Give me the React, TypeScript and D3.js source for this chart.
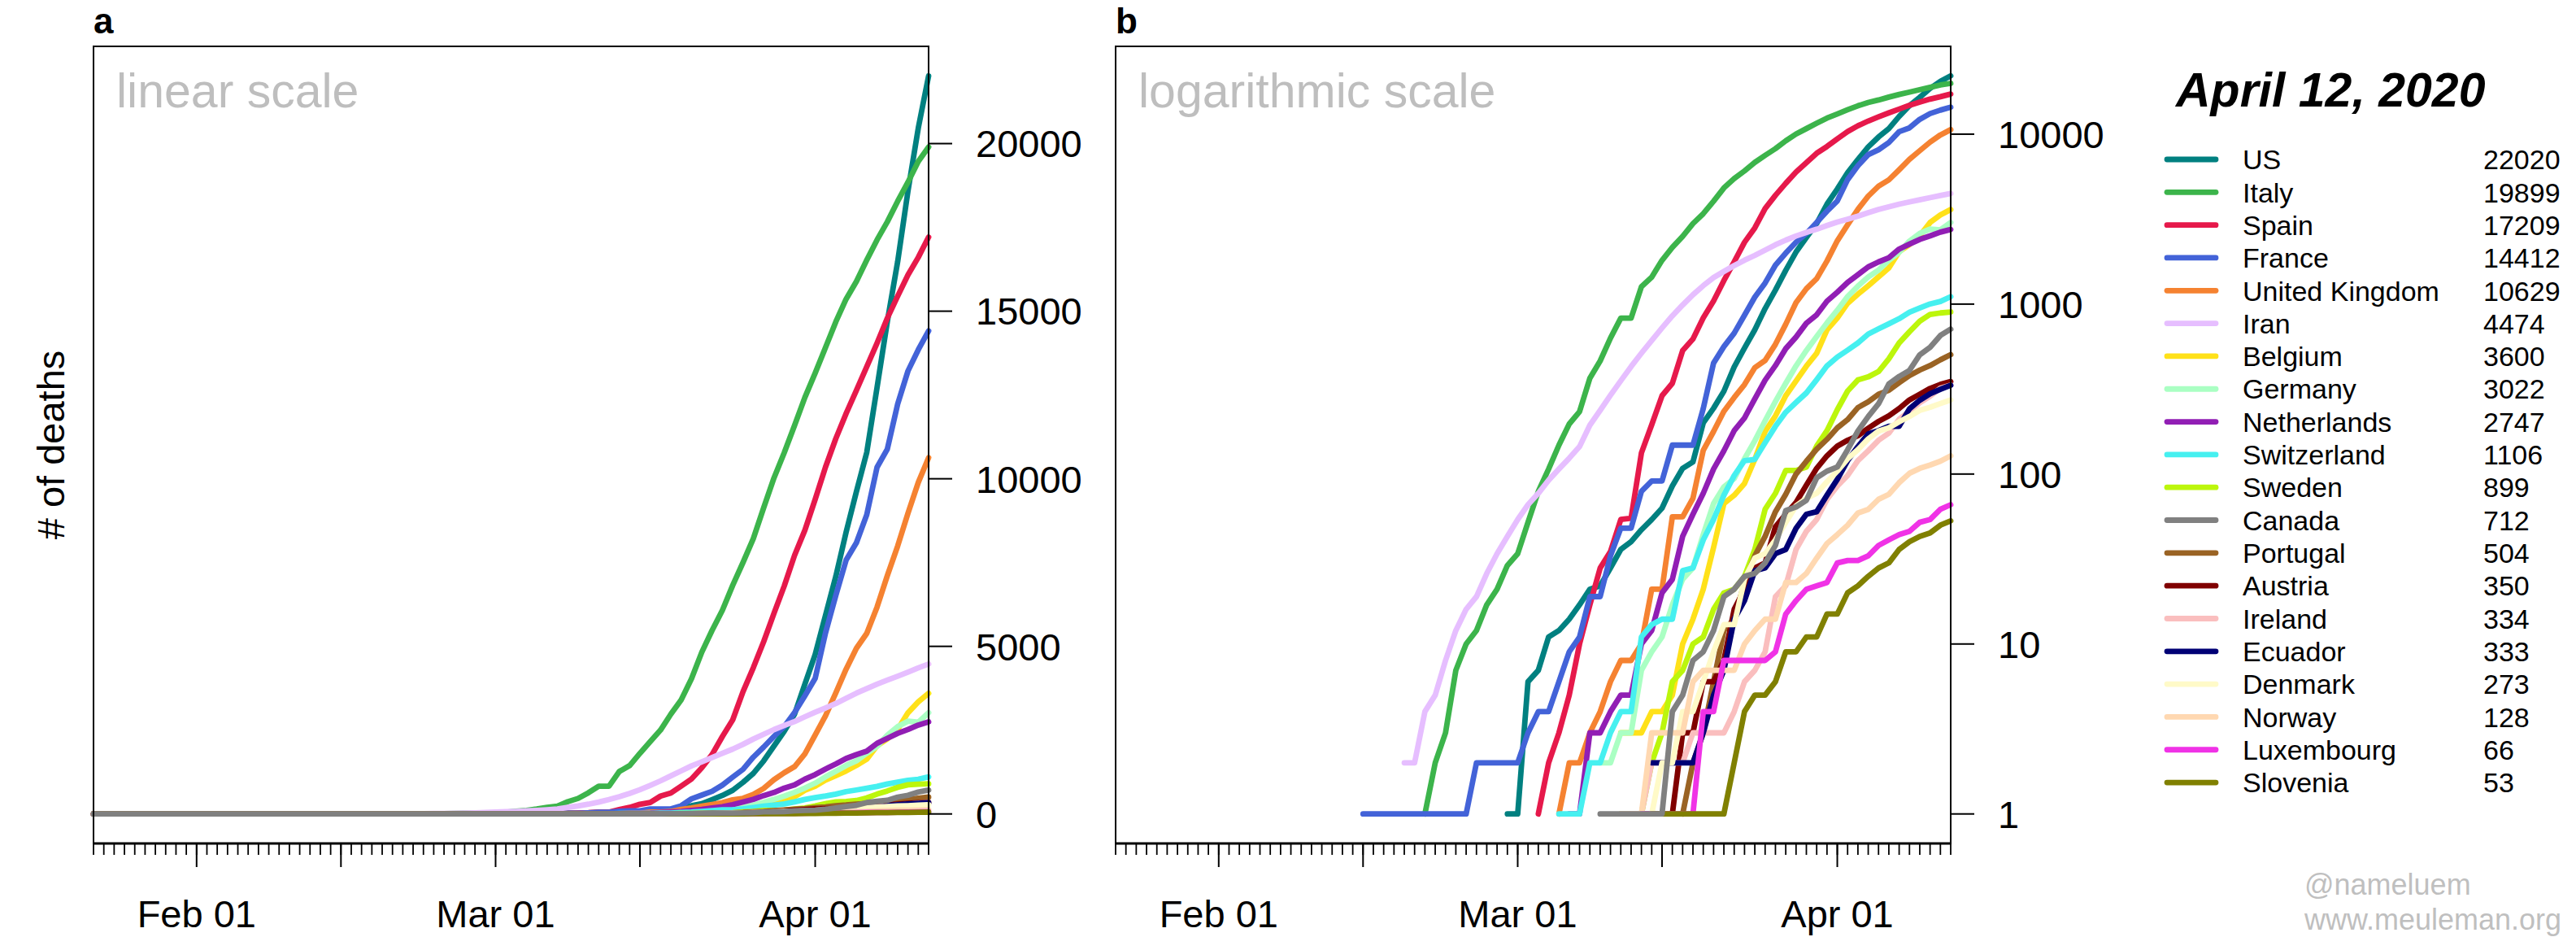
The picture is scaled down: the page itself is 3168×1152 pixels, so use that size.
import * as React from 'react';
import * as d3 from 'd3';

// daily cumulative deaths, Jan 22 .. Apr 12 2020 (82 days)
const startDate = new Date(Date.UTC(2020, 0, 22));
const endDate = new Date(Date.UTC(2020, 3, 12));
const dates = d3.utcDay.range(startDate, d3.utcDay.offset(endDate, 1));

const countries = [
  'US', 'Italy', 'Spain', 'France', 'United Kingdom', 'Iran', 'Belgium', 'Germany', 'Netherlands', 'Switzerland',
  'Sweden', 'Canada', 'Portugal', 'Austria', 'Ireland', 'Ecuador', 'Denmark', 'Norway', 'Luxembourg', 'Slovenia',
];

const colors = [
  '#008080', '#3cb44b', '#e6194b', '#4363d8', '#f58231', '#e6beff', '#ffe119', '#aaffc3', '#911eb4', '#46f0f0',
  '#bcf60c', '#808080', '#9a6324', '#800000', '#fabebe', '#000075', '#fffac8', '#ffd8b1', '#f032e6', '#808000',
];

// rows: Jan 22-31 | Feb 1-29 | Mar 1-31 | Apr 1-12
const deathsUS = [
  0, 0, 0, 0, 0, 0, 0, 0, 0, 0,
  0, 0, 0, 0, 0, 0, 0, 0, 0, 0, 0, 0, 0, 0, 0, 0, 0, 0, 0, 0, 0, 0, 0, 0, 0, 0, 0, 0, 1,
  1, 6, 7, 11, 12, 14, 17, 21, 22, 28, 36, 40, 47, 54, 63, 85, 108, 118, 200, 244, 307, 427, 552, 706, 942, 1209, 1581, 2026, 2467, 2978, 3873,
  4757, 5926, 7087, 8407, 9619, 10783, 12722, 14695, 16478, 18586, 20463, 22020,
];
const deathsItaly = [
  0, 0, 0, 0, 0, 0, 0, 0, 0, 0,
  0, 0, 0, 0, 0, 0, 0, 0, 0, 0, 0, 0, 0, 0, 0, 0, 0, 0, 0, 0, 1, 2, 3, 7, 10, 12, 17, 21, 29,
  34, 52, 79, 107, 148, 197, 233, 366, 463, 631, 827, 827, 1266, 1441, 1809, 2158, 2503, 2978, 3405, 4032, 4825, 5476, 6077, 6820, 7503, 8215, 9134, 10023, 10779, 11591, 12428,
  13155, 13915, 14681, 15362, 15887, 16523, 17127, 17669, 18279, 18849, 19468, 19899,
];
const deathsSpain = [
  0, 0, 0, 0, 0, 0, 0, 0, 0, 0,
  0, 0, 0, 0, 0, 0, 0, 0, 0, 0, 0, 0, 0, 0, 0, 0, 0, 0, 0, 0, 0, 0, 0, 0, 0, 0, 0, 0, 0,
  0, 0, 1, 2, 3, 5, 10, 17, 28, 35, 54, 55, 133, 195, 289, 342, 533, 623, 830, 1043, 1375, 1772, 2311, 2808, 3647, 4365, 5138, 5982, 6803, 7716, 8464,
  9387, 10348, 11198, 11947, 12641, 13341, 14045, 14792, 15447, 16081, 16606, 17209,
];
const deathsFrance = [
  0, 0, 0, 0, 0, 0, 0, 0, 0, 0,
  0, 0, 0, 0, 0, 0, 0, 0, 0, 0, 0, 0, 0, 0, 1, 1, 1, 1, 1, 1, 1, 1, 1, 1, 1, 2, 2, 2, 2,
  2, 3, 4, 4, 6, 9, 11, 19, 19, 33, 48, 48, 79, 91, 91, 148, 148, 148, 243, 450, 562, 674, 860, 1100, 1331, 1696, 1995, 2314, 2606, 3024, 3523,
  4043, 5398, 6520, 7574, 8093, 8926, 10343, 10887, 12228, 13215, 13851, 14412,
];
const deathsUK = [
  0, 0, 0, 0, 0, 0, 0, 0, 0, 0,
  0, 0, 0, 0, 0, 0, 0, 0, 0, 0, 0, 0, 0, 0, 0, 0, 0, 0, 0, 0, 0, 0, 0, 0, 0, 0, 0, 0, 0,
  0, 0, 0, 0, 1, 2, 2, 3, 4, 6, 8, 8, 10, 21, 21, 56, 56, 72, 138, 178, 234, 282, 336, 423, 466, 580, 761, 1021, 1231, 1411, 1793,
  2357, 2926, 3611, 4320, 4943, 5385, 6171, 7111, 7993, 8974, 9892, 10629,
];
const deathsIran = [
  0, 0, 0, 0, 0, 0, 0, 0, 0, 0,
  0, 0, 0, 0, 0, 0, 0, 0, 0, 0, 0, 0, 0, 0, 0, 0, 0, 0, 2, 2, 4, 5, 8, 12, 16, 19, 26, 34, 43,
  54, 66, 77, 92, 107, 124, 145, 194, 237, 291, 354, 429, 514, 611, 724, 853, 988, 1135, 1284, 1433, 1556, 1685, 1812, 1934, 2077, 2234, 2378, 2517, 2640, 2757, 2898,
  3036, 3160, 3294, 3452, 3603, 3739, 3872, 3993, 4110, 4232, 4357, 4474,
];
const deathsBelgium = [
  0, 0, 0, 0, 0, 0, 0, 0, 0, 0,
  0, 0, 0, 0, 0, 0, 0, 0, 0, 0, 0, 0, 0, 0, 0, 0, 0, 0, 0, 0, 0, 0, 0, 0, 0, 0, 0, 0, 0,
  0, 0, 0, 0, 0, 0, 0, 0, 0, 0, 3, 3, 3, 4, 4, 5, 10, 14, 21, 37, 67, 75, 88, 122, 178, 220, 289, 353, 431, 513, 705,
  828, 1011, 1143, 1283, 1447, 1632, 2035, 2240, 2523, 3019, 3346, 3600,
];
const deathsGermany = [
  0, 0, 0, 0, 0, 0, 0, 0, 0, 0,
  0, 0, 0, 0, 0, 0, 0, 0, 0, 0, 0, 0, 0, 0, 0, 0, 0, 0, 0, 0, 0, 0, 0, 0, 0, 0, 0, 0, 0,
  0, 0, 0, 0, 0, 0, 0, 0, 2, 2, 3, 3, 7, 9, 11, 17, 24, 28, 44, 67, 84, 94, 123, 157, 206, 267, 342, 433, 533, 645, 775,
  920, 1107, 1275, 1444, 1584, 1810, 2016, 2349, 2607, 2767, 2736, 3022,
];
const deathsNetherlands = [
  0, 0, 0, 0, 0, 0, 0, 0, 0, 0,
  0, 0, 0, 0, 0, 0, 0, 0, 0, 0, 0, 0, 0, 0, 0, 0, 0, 0, 0, 0, 0, 0, 0, 0, 0, 0, 0, 0, 0,
  0, 0, 0, 0, 0, 1, 1, 3, 3, 4, 5, 5, 10, 12, 20, 24, 43, 58, 77, 107, 137, 180, 214, 277, 357, 435, 547, 640, 772, 865, 1040,
  1175, 1341, 1490, 1656, 1771, 1874, 2108, 2255, 2403, 2520, 2653, 2747,
];
const deathsSwitzerland = [
  0, 0, 0, 0, 0, 0, 0, 0, 0, 0,
  0, 0, 0, 0, 0, 0, 0, 0, 0, 0, 0, 0, 0, 0, 0, 0, 0, 0, 0, 0, 0, 0, 0, 0, 0, 0, 0, 0, 0,
  0, 0, 0, 0, 1, 1, 1, 2, 2, 3, 4, 4, 11, 13, 14, 14, 27, 28, 41, 54, 75, 98, 120, 122, 153, 191, 231, 264, 300, 359, 433,
  488, 536, 591, 666, 715, 765, 821, 895, 948, 1002, 1036, 1106,
];
const deathsSweden = [
  0, 0, 0, 0, 0, 0, 0, 0, 0, 0,
  0, 0, 0, 0, 0, 0, 0, 0, 0, 0, 0, 0, 0, 0, 0, 0, 0, 0, 0, 0, 0, 0, 0, 0, 0, 0, 0, 0, 0,
  0, 0, 0, 0, 0, 0, 0, 0, 0, 0, 1, 1, 1, 2, 3, 6, 7, 10, 11, 16, 20, 21, 25, 36, 62, 77, 105, 105, 110, 146, 180,
  239, 308, 358, 373, 401, 477, 591, 687, 793, 870, 887, 899,
];
const deathsCanada = [
  0, 0, 0, 0, 0, 0, 0, 0, 0, 0,
  0, 0, 0, 0, 0, 0, 0, 0, 0, 0, 0, 0, 0, 0, 0, 0, 0, 0, 0, 0, 0, 0, 0, 0, 0, 0, 0, 0, 0,
  0, 0, 0, 0, 0, 0, 0, 0, 1, 1, 1, 1, 1, 1, 1, 4, 5, 8, 9, 12, 19, 21, 25, 26, 30, 38, 61, 64, 70, 95, 104,
  110, 139, 179, 218, 259, 339, 375, 407, 503, 557, 654, 712,
];
const deathsPortugal = [
  0, 0, 0, 0, 0, 0, 0, 0, 0, 0,
  0, 0, 0, 0, 0, 0, 0, 0, 0, 0, 0, 0, 0, 0, 0, 0, 0, 0, 0, 0, 0, 0, 0, 0, 0, 0, 0, 0, 0,
  0, 0, 0, 0, 0, 0, 0, 0, 0, 0, 0, 0, 0, 0, 0, 0, 1, 2, 3, 6, 12, 14, 23, 33, 43, 60, 76, 100, 119, 140, 160,
  187, 209, 246, 266, 295, 311, 345, 380, 409, 435, 470, 504,
];
const deathsAustria = [
  0, 0, 0, 0, 0, 0, 0, 0, 0, 0,
  0, 0, 0, 0, 0, 0, 0, 0, 0, 0, 0, 0, 0, 0, 0, 0, 0, 0, 0, 0, 0, 0, 0, 0, 0, 0, 0, 0, 0,
  0, 0, 0, 0, 0, 0, 0, 0, 0, 0, 0, 1, 1, 1, 1, 1, 3, 3, 6, 6, 8, 16, 21, 28, 30, 49, 58, 68, 86, 108, 128,
  146, 158, 168, 186, 204, 220, 243, 273, 295, 319, 337, 350,
];
const deathsIreland = [
  0, 0, 0, 0, 0, 0, 0, 0, 0, 0,
  0, 0, 0, 0, 0, 0, 0, 0, 0, 0, 0, 0, 0, 0, 0, 0, 0, 0, 0, 0, 0, 0, 0, 0, 0, 0, 0, 0, 0,
  0, 0, 0, 0, 0, 0, 0, 0, 0, 0, 1, 1, 1, 2, 2, 2, 2, 3, 3, 3, 3, 4, 6, 7, 9, 19, 22, 36, 46, 54, 71,
  85, 98, 120, 137, 158, 174, 210, 235, 263, 287, 320, 334,
];
const deathsEcuador = [
  0, 0, 0, 0, 0, 0, 0, 0, 0, 0,
  0, 0, 0, 0, 0, 0, 0, 0, 0, 0, 0, 0, 0, 0, 0, 0, 0, 0, 0, 0, 0, 0, 0, 0, 0, 0, 0, 0, 0,
  0, 0, 0, 0, 0, 0, 0, 0, 0, 0, 0, 0, 0, 2, 2, 2, 2, 2, 3, 5, 7, 14, 18, 27, 28, 34, 36, 48, 58, 60, 75,
  93, 120, 145, 172, 180, 191, 191, 242, 272, 297, 315, 333,
];
const deathsDenmark = [
  0, 0, 0, 0, 0, 0, 0, 0, 0, 0,
  0, 0, 0, 0, 0, 0, 0, 0, 0, 0, 0, 0, 0, 0, 0, 0, 0, 0, 0, 0, 0, 0, 0, 0, 0, 0, 0, 0, 0,
  0, 0, 0, 0, 0, 0, 0, 0, 0, 0, 0, 0, 0, 1, 2, 2, 4, 4, 6, 9, 13, 13, 24, 32, 34, 41, 52, 65, 72, 77, 90,
  104, 123, 139, 161, 179, 187, 203, 218, 237, 247, 260, 273,
];
const deathsNorway = [
  0, 0, 0, 0, 0, 0, 0, 0, 0, 0,
  0, 0, 0, 0, 0, 0, 0, 0, 0, 0, 0, 0, 0, 0, 0, 0, 0, 0, 0, 0, 0, 0, 0, 0, 0, 0, 0, 0, 0,
  0, 0, 0, 0, 0, 0, 0, 0, 0, 0, 0, 1, 1, 3, 3, 3, 3, 6, 7, 7, 7, 7, 10, 12, 14, 14, 23, 23, 26, 32, 39,
  44, 50, 59, 62, 71, 76, 89, 101, 108, 113, 119, 128,
];
const deathsLuxembourg = [
  0, 0, 0, 0, 0, 0, 0, 0, 0, 0,
  0, 0, 0, 0, 0, 0, 0, 0, 0, 0, 0, 0, 0, 0, 0, 0, 0, 0, 0, 0, 0, 0, 0, 0, 0, 0, 0, 0, 0,
  0, 0, 0, 0, 0, 0, 0, 0, 0, 0, 0, 0, 1, 1, 1, 1, 1, 1, 4, 4, 8, 8, 8, 8, 8, 9, 15, 18, 21, 22, 23,
  30, 31, 31, 33, 38, 41, 44, 46, 52, 54, 62, 66,
];
const deathsSlovenia = [
  0, 0, 0, 0, 0, 0, 0, 0, 0, 0,
  0, 0, 0, 0, 0, 0, 0, 0, 0, 0, 0, 0, 0, 0, 0, 0, 0, 0, 0, 0, 0, 0, 0, 0, 0, 0, 0, 0, 0,
  0, 0, 0, 0, 0, 0, 0, 0, 0, 0, 0, 0, 0, 1, 1, 1, 1, 1, 1, 1, 1, 2, 4, 5, 5, 6, 9, 9, 11, 11, 15,
  15, 20, 22, 25, 28, 30, 36, 40, 43, 45, 50, 53,
];

const series = [
  deathsUS, deathsItaly, deathsSpain, deathsFrance, deathsUK, deathsIran, deathsBelgium, deathsGermany,
  deathsNetherlands, deathsSwitzerland, deathsSweden, deathsCanada, deathsPortugal, deathsAustria,
  deathsIreland, deathsEcuador, deathsDenmark, deathsNorway, deathsLuxembourg, deathsSlovenia,
];

// Canada ends up on top in the original
const drawOrder = [0, 1, 2, 3, 4, 5, 6, 7, 8, 9, 10, 12, 13, 14, 15, 16, 17, 18, 19, 11];

const linearTicks = [0, 5000, 10000, 15000, 20000];
const logTicks = [1, 10, 100, 1000, 10000];

const W = 3168;
const H = 1152;
const plotTop = 57;
const plotBottom = 1037;
const plotW = 1027;
const font = '"Liberation Sans", Arial, Helvetica, sans-serif';
const lineW = 6.8;

const fmtDate = d3.utcFormat('%b %d');
const majorDates = dates.filter((d) => d.getUTCDate() === 1 || d.getUTCDate() === 15);

function Panel(props: { left: number; log: boolean; tag: string; note: string }) {
  const { left, log, tag, note } = props;
  const right = left + plotW;
  const x = d3.scaleUtc().domain([startDate, endDate]).range([left, right]);
  const maxV = d3.max(series, (s) => d3.max(s)) as number;

  // R style 4% padding of the data range
  let y: any;
  if (log) {
    const hi = Math.log10(maxV);
    const pad = hi * 0.04;
    y = d3.scaleLog().domain([Math.pow(10, -pad), Math.pow(10, hi + pad)]).range([plotBottom, plotTop]);
  } else {
    const pad = maxV * 0.04;
    y = d3.scaleLinear().domain([-pad, maxV + pad]).range([plotBottom, plotTop]);
  }

  const line = d3.line<number>()
    .defined((v) => !log || v > 0)
    .x((_, i) => x(dates[i]))
    .y((v) => y(v));

  const ticks = log ? logTicks : linearTicks;

  return (
    <g>
      <text x={left} y={41} fontSize={44} fontWeight="bold" fontFamily={font}>{tag}</text>
      <text x={left + 28} y={132} fontSize={59} fill="#bebebe" fontFamily={font}>{note}</text>

      {drawOrder.map((k) => (
        <path key={k} d={line(series[k]) || ''} fill="none" stroke={colors[k]}
          strokeWidth={lineW} strokeLinejoin="round" strokeLinecap="round" />
      ))}

      <rect x={left} y={plotTop} width={plotW} height={plotBottom - plotTop}
        fill="none" stroke="#000" strokeWidth={2} />

      {/* x axis: one minor tick per day, long ticks on the 1st and 15th */}
      <line x1={left} x2={right} y1={plotBottom} y2={plotBottom} stroke="#000" strokeWidth={3} />
      {dates.map((d, i) => (
        <line key={i} x1={x(d)} x2={x(d)} y1={plotBottom} y2={plotBottom + 14} stroke="#000" strokeWidth={1.8} />
      ))}
      {majorDates.map((d, i) => (
        <line key={'M' + i} x1={x(d)} x2={x(d)} y1={plotBottom} y2={plotBottom + 29} stroke="#000" strokeWidth={2} />
      ))}
      {majorDates.filter((d) => d.getUTCDate() === 1).map((d, i) => (
        <text key={'L' + i} x={x(d)} y={1140} fontSize={47} textAnchor="middle" fontFamily={font}>{fmtDate(d)}</text>
      ))}

      {/* y axis on the right */}
      {ticks.map((t) => (
        <g key={t}>
          <line x1={right} x2={right + 29} y1={y(t)} y2={y(t)} stroke="#000" strokeWidth={2} />
          <text x={right + 58} y={y(t)} dy="0.36em" fontSize={47} fontFamily={font}>{String(t)}</text>
        </g>
      ))}
    </g>
  );
}

function Legend() {
  const y0 = 196;
  const step = 40.32;
  return (
    <g fontFamily={font}>
      <text x={2676} y={131} fontSize={59} fontWeight="bold" fontStyle="italic">April 12, 2020</text>
      {countries.map((c, i) => {
        const yy = y0 + i * step;
        const s = series[i];
        return (
          <g key={c}>
            <line x1={2665} x2={2725} y1={yy} y2={yy} stroke={colors[i]} strokeWidth={lineW} strokeLinecap="round" />
            <text x={2758} y={yy} dy="0.36em" fontSize={34}>{c}</text>
            <text x={3054} y={yy} dy="0.36em" fontSize={34}>{String(s[s.length - 1])}</text>
          </g>
        );
      })}
      <text x={2834} y={1100} fontSize={36} fill="#bfbfbf">@nameluem</text>
      <text x={2834} y={1143} fontSize={36} fill="#bfbfbf">www.meuleman.org</text>
    </g>
  );
}

export default function App() {
  return (
    <svg width={W} height={H} viewBox={`0 0 ${W} ${H}`}
      style={{ position: 'absolute', left: 0, top: 0, background: '#fff' }}>
      <rect x={0} y={0} width={W} height={H} fill="#fff" />
      <Panel left={115} log={false} tag="a" note="linear scale" />
      <Panel left={1372} log={true} tag="b" note="logarithmic scale" />
      <text transform="translate(79,547) rotate(-90)" textAnchor="middle" fontSize={47} fontFamily={font}># of deaths</text>
      <Legend />
    </svg>
  );
}
